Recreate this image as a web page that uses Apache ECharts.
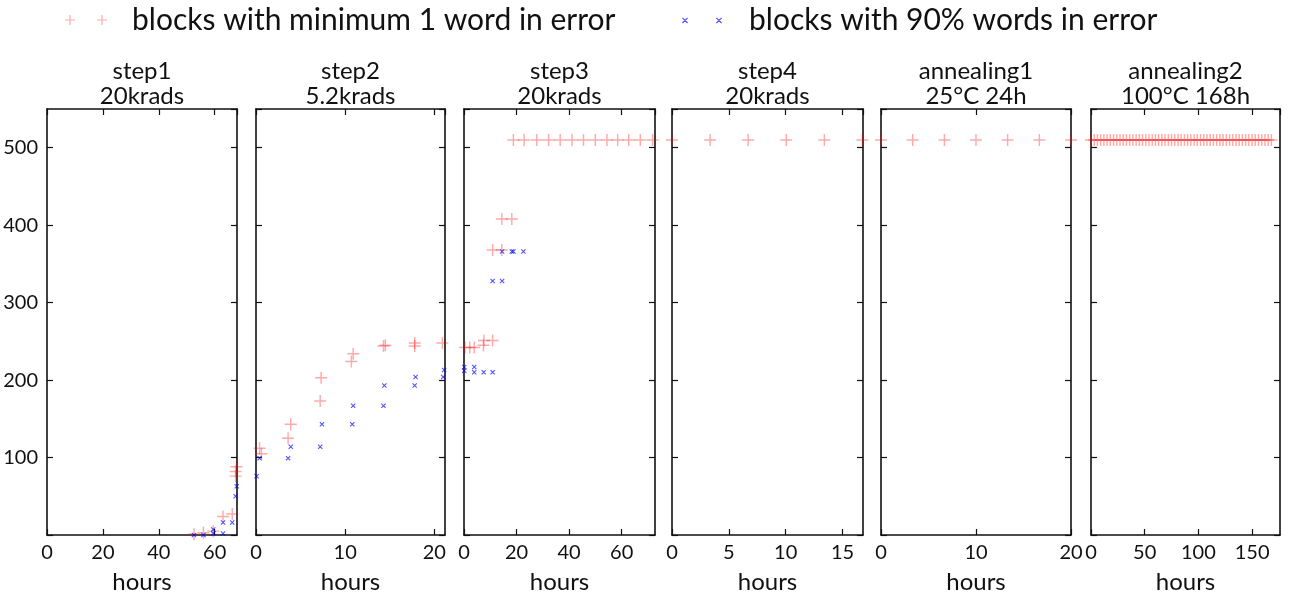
<!DOCTYPE html>
<html>
<head>
<meta charset="utf-8">
<script src="https://cdn.jsdelivr.net/npm/echarts@6/dist/echarts.min.js"></script>
<style>html,body{margin:0;padding:0;background:#fff}#c{width:1289px;height:595px}</style>
</head>
<body>
<div id="c"></div>
<script>
// ---------- data (hours, number of blocks) ----------
const panelTitles = ['step1\n20krads', 'step2\n5.2krads', 'step3\n20krads', 'step4\n20krads', 'annealing1\n25°C 24h', 'annealing2\n100°C 168h'];
const xMax = [68, 21.2, 72.7, 16.8, 20, 176];
const xInterval = [20, 10, 20, 5, 10, 50];
const yTicks = [100, 200, 300, 400, 500];
const seriesNames = ['blocks with minimum 1 word in error', 'blocks with 90% words in error'];

const step1Min1 = [[52.6,1],[56,3],[59.5,5],[63,24],[66.3,27],[67.5,76],[67.5,82],[67.8,88]];
const step1Pct90 = [[52.6,0],[56,0],[59.5,2],[59.5,7],[63,2],[63,16],[66.3,16],[67.5,50],[67.9,63]];

const step2Min1 = [[0.4,112],[0.6,105],[3.6,125],[3.9,143],[7.2,173],[7.3,203],[10.7,224],[10.9,234],[14.3,244],[14.5,245],[17.8,244],[17.8,248],[20.9,248]];
const step2Pct90 = [[0.07,76],[0.4,99],[3.6,99],[3.9,114],[7.2,114],[7.4,143],[10.8,143],[10.9,167],[14.3,167],[14.4,193],[17.8,193],[17.9,204],[21,204],[21.1,213]];

const step3Min1 = [[0.4,242],[2.2,242],[3.9,242],[7.4,245],[7.6,251],[10.9,251],[10.9,368],[14.4,368],[14.4,408],[18.2,408],
  [18.8,510],[22.9,510],[27.7,510],[32.2,510],[36.6,510],[41.1,510],[45.5,510],[50,510],[54.4,510],[58.5,510],[62.7,510],[67.1,510],[71.8,510]];
const step3Pct90 = [[0.1,217],[0.1,212],[3.9,217],[3.9,210],[7.5,210],[10.9,210],[10.9,328],[14.5,328],[14.5,366],[18.2,366],[18.8,366],[22.6,366]];

const step4Min1 = [[0,510],[3.35,510],[6.7,510],[10.05,510],[13.4,510],[16.75,510]];
const step4Pct90 = [];

const anneal1Min1 = [[0,510],[3.33,510],[6.67,510],[10,510],[13.33,510],[16.67,510],[20,510]];
const anneal1Pct90 = [];

const anneal2Min1 = [[0,510],[3,510],[6,510],[9,510],[12,510],[15,510],[18,510],[21,510],[24,510],[27,510],[30,510],[33,510],[36,510],[39,510],[42,510],[45,510],[48,510],[51,510],[54,510],[57,510],[60,510],[63,510],[66,510],[69,510],[72,510],[75,510],[78,510],[81,510],[84,510],[87,510],[90,510],[93,510],[96,510],[99,510],[102,510],[105,510],[108,510],[111,510],[114,510],[117,510],[120,510],[123,510],[126,510],[129,510],[132,510],[135,510],[138,510],[141,510],[144,510],[147,510],[150,510],[153,510],[156,510],[159,510],[162,510],[165,510],[168,510]];
const anneal2Pct90 = [];

const min1Data = [step1Min1, step2Min1, step3Min1, step4Min1, anneal1Min1, anneal2Min1];
const pct90Data = [step1Pct90, step2Pct90, step3Pct90, step4Pct90, anneal1Pct90, anneal2Pct90];

// ---------- layout / style ----------
const FONT = 'Lato';
const gridLeft = [47, 256, 464, 672, 881, 1091];
const gridWidth = [190, 189, 191, 191, 190, 189];
const gridTop = 109, gridHeight = 426;
const RED = 'rgba(255,0,0,0.42)';
const BLUE = 'rgba(0,0,255,0.85)';
const plusSym = 'path://M0,4.4H10V5.6H0Z M4.4,0H5.6V10H4.4Z';
const crossSym = 'path://M0,1.5L1.5,0L10,8.5L8.5,10Z M8.5,0L10,1.5L1.5,10L0,8.5Z';
const legendPlus = 'path://M0,0 M62,12 M0,5.4H10V6.6H0Z M4.4,1H5.6V11H4.4Z M32,5.4H42V6.6H32Z M36.4,1H37.6V11H36.4Z';
const legendCross = 'path://M0,0 M62,12 M0,4.2L0.8,3.4L6,8.6L5.2,9.4Z M5.2,3.4L6,4.2L0.8,9.4L0,8.6Z M34,4.2L34.8,3.4L40,8.6L39.2,9.4Z M39.2,3.4L40,4.2L34.8,9.4L34,8.6Z';
function tickStyle() { return {show: true, inside: true, length: 6, lineStyle: {color: '#111', width: 1.2}}; }
function lineStyle() { return {show: true, onZero: false, lineStyle: {color: '#111', width: 1.6}}; }

const grids = [], xAxes = [], yAxes = [], series = [], titles = [];
for (let i = 0; i < 6; i++) {
  grids.push({left: gridLeft[i], width: gridWidth[i], top: gridTop, height: gridHeight,
    containLabel: false, outerBoundsMode: 'none', show: false});
  const showMax = (xMax[i] % xInterval[i]) === 0;
  xAxes.push({type: 'value', gridIndex: i, min: 0, max: xMax[i], interval: xInterval[i], position: 'bottom',
    axisLine: lineStyle(), splitLine: {show: false}, axisTick: tickStyle(),
    axisLabel: {show: true, margin: 8, fontFamily: FONT, fontSize: 20, color: '#111', showMaxLabel: showMax, showMinLabel: true},
    name: 'hours', nameLocation: 'middle', nameGap: 35, nameMoveOverlap: false,
    nameTextStyle: {fontFamily: FONT, fontSize: 24, color: '#111'}});
  xAxes.push({type: 'value', gridIndex: i, min: 0, max: xMax[i], interval: xInterval[i], position: 'top',
    axisLine: lineStyle(), splitLine: {show: false}, axisLabel: {show: false}, axisTick: tickStyle()});
  yAxes.push({type: 'value', gridIndex: i, min: 0, max: 550, interval: 100, position: 'left',
    axisLine: lineStyle(), splitLine: {show: false}, axisTick: tickStyle(),
    axisLabel: {show: i === 0, margin: 9, fontFamily: FONT, fontSize: 20, color: '#111', showMaxLabel: false,
      formatter: v => (yTicks.indexOf(v) >= 0 ? String(v) : '')}});
  yAxes.push({type: 'value', gridIndex: i, min: 0, max: 550, interval: 100, position: 'right',
    axisLine: lineStyle(), splitLine: {show: false}, axisLabel: {show: false}, axisTick: tickStyle()});
  series.push({name: seriesNames[0], type: 'scatter', xAxisIndex: 2 * i, yAxisIndex: 2 * i,
    data: min1Data[i], symbol: plusSym, symbolSize: 12, itemStyle: {color: RED}, clip: true, z: 2});
  series.push({name: seriesNames[1], type: 'scatter', xAxisIndex: 2 * i, yAxisIndex: 2 * i,
    data: pct90Data[i], symbol: crossSym, symbolSize: 5, itemStyle: {color: BLUE}, clip: true, z: 3});
  titles.push({text: panelTitles[i], left: gridLeft[i] + gridWidth[i] / 2, top: 59, textAlign: 'center', padding: 0,
    textStyle: {fontFamily: FONT, fontSize: 24, fontWeight: 'normal', color: '#111', lineHeight: 25}});
}

const chart = echarts.init(document.getElementById('c'), null, {renderer: 'canvas'});
chart.setOption({
  animation: false,
  backgroundColor: '#fff',
  title: titles,
  legend: [
    {data: [{name: seriesNames[0], icon: legendPlus}], left: 60, top: 0, itemWidth: 62, itemHeight: 12,
      selectedMode: false, textStyle: {fontFamily: FONT, fontSize: 30, color: '#111'}},
    {data: [{name: seriesNames[1], icon: legendCross}], left: 677, top: 0, itemWidth: 62, itemHeight: 12,
      selectedMode: false, textStyle: {fontFamily: FONT, fontSize: 30, color: '#111'}}
  ],
  grid: grids,
  xAxis: xAxes,
  yAxis: yAxes,
  series: series
});
</script>
</body>
</html>
